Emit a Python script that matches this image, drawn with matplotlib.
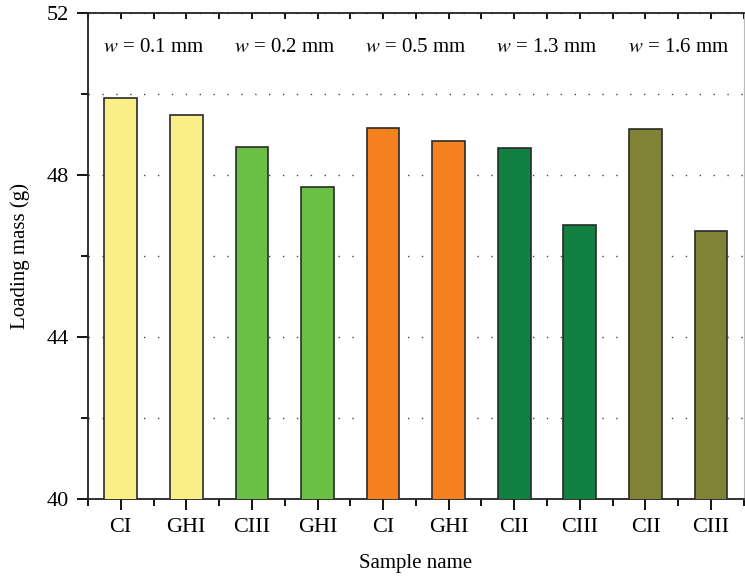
import matplotlib.pyplot as plt
from matplotlib.ticker import MultipleLocator

# sample names and measured loading mass
samples = ["CI", "GHI", "CIII", "GHI", "CI", "GHI", "CII", "CIII", "CII", "CIII"]
mass = [49.90, 49.48, 48.69, 47.70, 49.16, 48.84, 48.67, 46.77, 49.14, 46.62]
widths = ["0.1", "0.2", "0.5", "1.3", "1.6"]
group_colors = ["#F9EF86", "#6ABF45", "#F5821F", "#118041", "#808236"]

plt.rcParams['font.family'] = ['Liberation Serif', 'DejaVu Serif']
plt.rcParams['mathtext.fontset'] = 'stix'

fig = plt.figure(figsize=(7.45, 5.8), dpi=100)
ax = fig.add_axes([0.118, 0.1397, 0.8805, 0.8379])

x = list(range(len(samples)))
colors = [group_colors[i // 2] for i in x]
ax.bar(x, mass, width=0.5, color=colors, edgecolor="#2a2a2a", linewidth=1.2, zorder=3)

ax.set_xlim(-0.5, len(samples) - 0.5)
ax.set_ylim(40, 52)
ax.set_xticks(x)
ax.set_xticklabels(samples)
ax.xaxis.set_minor_locator(MultipleLocator(0.5))
ax.yaxis.set_major_locator(MultipleLocator(4))
ax.yaxis.set_minor_locator(MultipleLocator(2))

ax.grid(axis='y', which='both', linestyle=(0, (1, 9)), color='#444444', linewidth=1.0, zorder=0)

ax.tick_params(axis='both', which='major', labelsize=16, length=8, width=1.3, direction='out', pad=6)
ax.tick_params(axis='both', which='minor', length=5, width=1.3, direction='out')
ax.tick_params(axis='x', which='both', top=True, labeltop=False)
# top ticks point inward
for t in ax.xaxis.get_major_ticks() + ax.xaxis.get_minor_ticks():
    t.tick2line.set_marker(3)
    t.tick2line.set_markersize(4)

for side in ['left', 'bottom', 'top']:
    ax.spines[side].set_linewidth(1.3)
    ax.spines[side].set_color('#222222')
ax.spines['right'].set_color('#bbbbbb')

ax.set_xlabel("Sample name", fontsize=15, labelpad=12)
ax.set_ylabel("Loading mass (g)", fontsize=15, labelpad=12)

for i, w in enumerate(widths):
    ax.text(2 * i + 0.5, 51.15, r"$w$" + " = " + w + " mm", ha='center', va='center', fontsize=15,
            zorder=4)

fig.savefig("out.png", dpi=100)
